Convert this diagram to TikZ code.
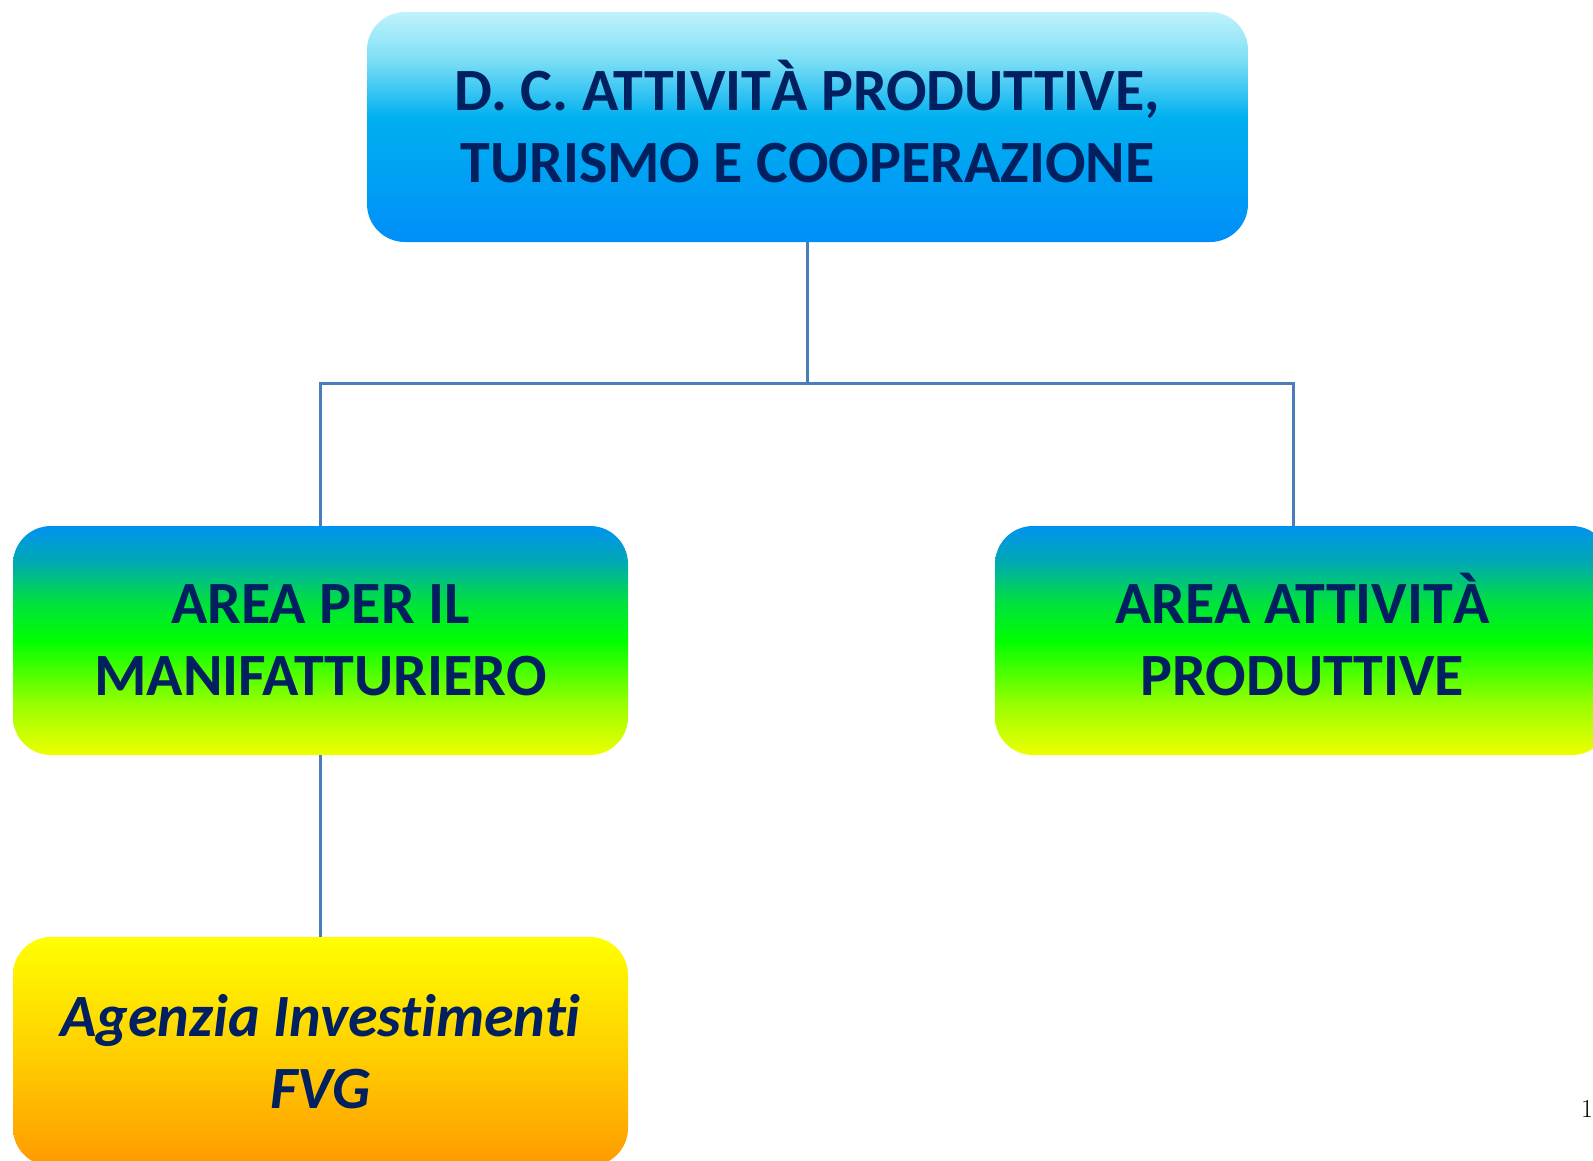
\documentclass[tikz,border=0pt]{standalone}
\usepackage{fontspec}
\newfontfamily\carlito[Ligatures=NoCommon]{Carlito}
\definecolor{navy}{HTML}{002060}
\definecolor{lineblue}{HTML}{4A7EBB}
\definecolor{tbA}{HTML}{C0F2FC}
\definecolor{tbB}{HTML}{80E0F6}
\definecolor{tbC}{HTML}{00B0F0}
\definecolor{tbD}{HTML}{008EF8}
\definecolor{gA}{HTML}{0092F0}
\definecolor{gB}{HTML}{00AAB0}
\definecolor{gC}{HTML}{00E040}
\definecolor{gD}{HTML}{00FF00}
\definecolor{gE}{HTML}{99FF00}
\definecolor{gF}{HTML}{EEFF00}
\definecolor{yA}{HTML}{FFFF00}
\definecolor{yB}{HTML}{FFD000}
\definecolor{yC}{HTML}{FF9A00}
\pgfdeclareverticalshading{topshade}{100bp}{color(0bp)=(tbD); color(25bp)=(tbD); color(52bp)=(tbC); color(65bp)=(tbB); color(75bp)=(tbA); color(100bp)=(tbA)}
\pgfdeclareverticalshading{greenshade}{100bp}{color(0bp)=(gF); color(25bp)=(gF); color(36bp)=(gE); color(50bp)=(gD); color(58.5bp)=(gC); color(67bp)=(gB); color(75bp)=(gA); color(100bp)=(gA)}
\pgfdeclareverticalshading{yellowshade}{100bp}{color(0bp)=(yC); color(25bp)=(yC); color(50bp)=(yB); color(75bp)=(yA); color(100bp)=(yA)}
\tikzset{
  boxbase/.style={rounded corners=38pt, inner sep=0pt, align=center, text=navy,
    font=\carlito\bfseries\fontsize{60}{72}\selectfont},
  topbox/.style={boxbase, shading=topshade, minimum width=881pt, minimum height=230pt},
  areabox/.style={boxbase, shading=greenshade, minimum width=615pt, minimum height=229pt},
  agbox/.style={boxbase, shading=yellowshade, minimum width=615pt, minimum height=229pt,
    font=\carlito\bfseries\itshape\fontsize{60}{72}\selectfont},
  conn/.style={draw=lineblue, line width=3pt}
}
\begin{document}
\begin{tikzpicture}[x=1pt,y=-1pt]
\useasboundingbox (0,0) rectangle (1593,1160);
\clip (0,0) rectangle (1593,1160);
\node[topbox] (top) at (807.5,127) {D. C. ATTIVIT\smash{À} PRODUTTIVE,\\TURISMO E COOPERAZIONE};
\node[areabox] (left) at (320.5,640.5) {AREA PER IL\\MANIFATTURIERO};
\node[areabox] (right) at (1302.5,640.5) {AREA ATTIVIT\smash{À}\\PRODUTTIVE};
\node[agbox] (agency) at (320.5,1051.5) {Agenzia Investimenti\\FVG};
\coordinate (jn) at (807.5,383);
\draw[conn] (top.south) -- (jn);
\draw[conn] (left.north) |- (jn);
\draw[conn] ([xshift=-9.5pt]right.north) |- (jn);
\draw[conn] (left.south) -- (agency.north);
\node[anchor=base west, inner sep=0pt, font=\fontsize{26}{30}\selectfont] (pg) at (1581,1117) {1};
\end{tikzpicture}
\end{document}
